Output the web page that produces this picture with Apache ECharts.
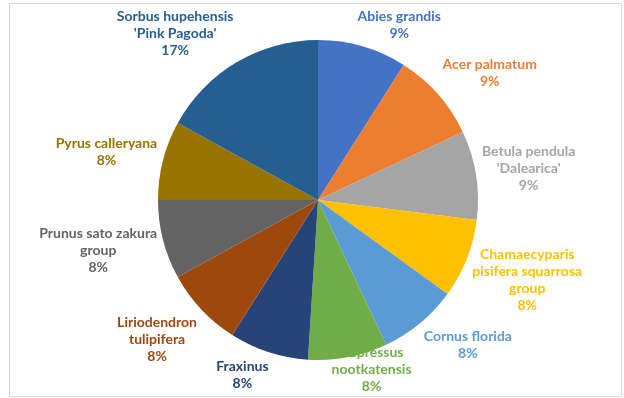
<!DOCTYPE html>
<html>
<head>
<meta charset="utf-8">
<script src="https://cdn.jsdelivr.net/npm/echarts@6/dist/echarts.min.js"></script>
<style>
  html, body { margin: 0; padding: 0; background: #ffffff; }
  #chart { width: 624px; height: 398px; }
</style>
</head>
<body>
<div id="chart"></div>
<script>
// Tree species and their share of the planting (%)
const species = [
  "Abies grandis",
  "Acer palmatum",
  "Betula pendula\n'Dalearica'",
  "Chamaecyparis\npisifera squarrosa\ngroup",
  "Cornus florida",
  "Cupressus\nnootkatensis",
  "Fraxinus",
  "Liriodendron\ntulipifera",
  "Prunus sato zakura\ngroup",
  "Pyrus calleryana",
  "Sorbus hupehensis\n'Pink Pagoda'"
];
const shares = [9, 9, 9, 8, 8, 8, 8, 8, 8, 8, 17];
const colors = [
  "#4472C4", "#ED7D31", "#A5A5A5", "#FFC000", "#5B9BD5", "#70AD47",
  "#264478", "#9E480E", "#636363", "#997300", "#255E91"
];

const CX = 318, CY = 200, R = 160;
const FONT_SIZE = 14, LINE_H = 17;

// mid angle of each slice, clockwise from 12 o'clock
const total = shares.reduce((a, b) => a + b, 0);
const midAngles = [];
let acc = 0;
shares.forEach(v => { midAngles.push((acc + v / 2) / total * 2 * Math.PI); acc += v; });

const clamp = v => Math.max(-1, Math.min(1, v));

// measure each label block (name lines + percentage line)
const measureCtx = document.createElement('canvas').getContext('2d');
measureCtx.font = 'bold ' + FONT_SIZE + 'px Lato';
function labelSize(i) {
  const lines = (species[i] + '\n' + shares[i] + '%').split('\n');
  const w = Math.max.apply(null, lines.map(s => measureCtx.measureText(s).width));
  return { w: w, h: lines.length * LINE_H };
}

const chart = echarts.init(document.getElementById('chart'), null, { renderer: 'canvas' });
chart.setOption({
  animation: false,
  backgroundColor: '#ffffff',
  graphic: [{
    type: 'rect',
    shape: { x: 9.5, y: 3.5, width: 612, height: 393 },
    style: { fill: 'none', stroke: '#d9d9d9', lineWidth: 1 },
    silent: true
  }],
  series: [{
    type: 'pie',
    center: [CX, CY],
    radius: [0, R],
    startAngle: 90,
    clockwise: true,
    avoidLabelOverlap: false,
    emphasis: { disabled: true },
    itemStyle: { borderWidth: 0 },
    label: {
      show: true,
      position: 'outside',
      formatter: '{b}\n{c}%',
      fontFamily: 'Lato',
      fontWeight: 'bold',
      fontSize: FONT_SIZE,
      lineHeight: LINE_H,
      align: 'center',
      bleedMargin: 0,
      distanceToLabelLine: 0
    },
    labelLine: { show: false, length: 0, length2: 0 },
    labelLayout: function (p) {
      // place each label box just outside the rim, pushed away along the slice direction
      const a = midAngles[p.dataIndex];
      const ux = Math.sin(a), uy = -Math.cos(a);
      const px = CX + (R + 6) * ux, py = CY + (R + 6) * uy;
      const sz = labelSize(p.dataIndex);
      let x = px + clamp(ux * 3) * sz.w / 2;
      let y = py + clamp(uy * 1.5) * sz.h / 2;
      y = Math.max(8 + sz.h / 2, Math.min(y, 395 - sz.h / 2));
      return { x: x, y: y, align: 'center', verticalAlign: 'middle' };
    },
    data: species.map((name, i) => ({
      name: name,
      value: shares[i],
      itemStyle: { color: colors[i] },
      label: { color: colors[i] }
    }))
  }]
});
</script>
</body>
</html>
